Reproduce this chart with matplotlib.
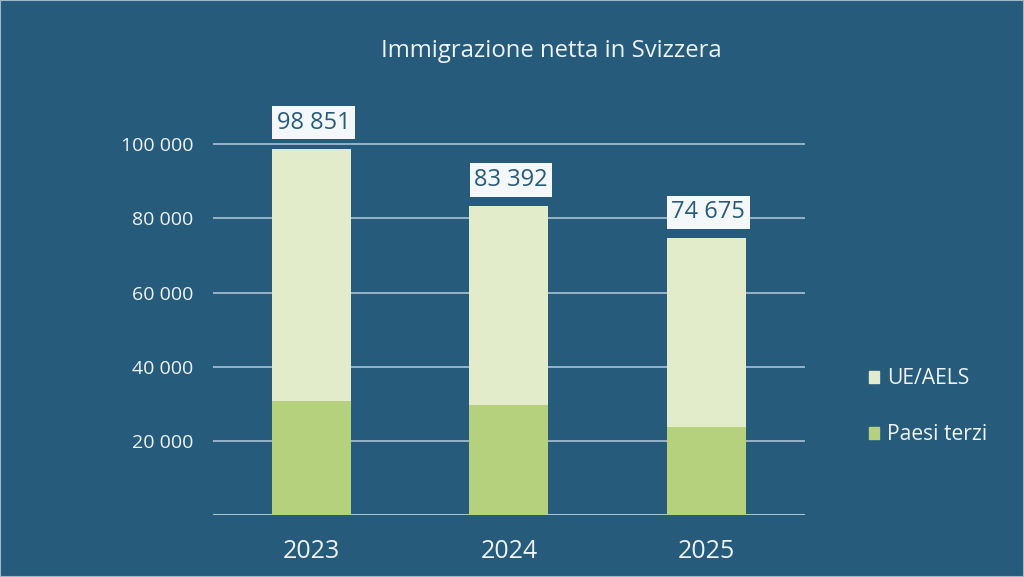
import matplotlib
matplotlib.use('Agg')
import matplotlib.pyplot as plt
from matplotlib.patches import Patch

years = ['2023', '2024', '2025']
paesi_terzi = [30700, 29700, 23700]
totali = [98851, 83392, 74675]
ue_aels = [t - p for t, p in zip(totali, paesi_terzi)]
yticks = [20000, 40000, 60000, 80000, 100000]

BG = '#265b7c'
C_UE = '#e2ecca'
C_PT = '#b5d17e'
GRID = '#a9c2d6'
TXT = '#eef3f7'

plt.rcParams['font.family'] = ['Open Sans', 'DejaVu Sans']

fig = plt.figure(figsize=(10.24, 5.77), dpi=100, facecolor=BG)
ax = fig.add_axes([0.208, 0.1075, 0.578, 0.681])
ax.set_facecolor(BG)

x = range(len(years))
ax.bar(x, paesi_terzi, width=0.4, color=C_PT, zorder=3)
ax.bar(x, ue_aels, width=0.4, bottom=paesi_terzi, color=C_UE, zorder=3)

for xi, t in zip(x, totali):
    ax.annotate(f'{t:,}'.replace(',', ' '), (xi, t), xytext=(1.5, 10), textcoords='offset points',
                ha='center', va='bottom', fontsize=17, color='#265b7c', zorder=4,
                bbox=dict(boxstyle='square,pad=0.2', fc='#f5f8fa', ec='none'))

ax.set_xlim(-0.5, 2.5)
ax.set_ylim(0, 106000)
ax.set_yticks(yticks)
ax.set_yticklabels([f'{v:,}'.replace(',', ' ') for v in yticks])
ax.set_xticks(list(x))
ax.set_xticklabels(years)
ax.yaxis.grid(True, color=GRID, lw=1.2, zorder=0)
ax.axhline(0, color=GRID, lw=1.5, zorder=2)
for s in ax.spines.values():
    s.set_visible(False)
ax.tick_params(axis='y', length=0, pad=14, labelsize=14, labelcolor=TXT)
ax.tick_params(axis='x', length=0, pad=17, labelsize=18, labelcolor=TXT)

fig.text(0.538, 0.912, 'Immigrazione netta in Svizzera', ha='center', va='center',
         fontsize=17.2, color=TXT)

handles = [Patch(color=C_UE, label='UE/AELS'), Patch(color=C_PT, label='Paesi terzi')]
leg = fig.legend(handles=handles, loc='center left', bbox_to_anchor=(0.83, 0.295),
                 frameon=False, fontsize=15.2, labelcolor=TXT, handlelength=0.5,
                 handleheight=0.5, handletextpad=0.35, labelspacing=1.65)

# sottile bordo chiaro
fig.patches.append(plt.Rectangle((0, 0), 1, 1, transform=fig.transFigure, fill=False,
                                 ec='#9fb8cc', lw=1.5))

fig.savefig('out.png', dpi=100, facecolor=BG)
